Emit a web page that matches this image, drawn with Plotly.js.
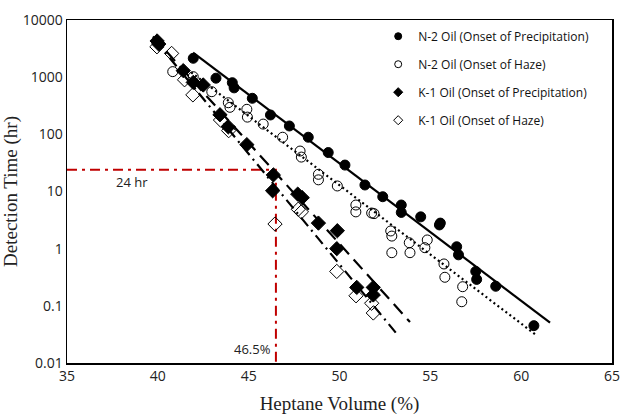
<!DOCTYPE html>
<html>
<head>
<meta charset="utf-8">
<script src="https://cdn.plot.ly/plotly-3.0.1.min.js"></script>
<style>html,body{margin:0;padding:0;background:#fff}#chart{width:625px;height:418px}</style>
</head>
<body>
<div id="chart"></div>
<script>
// N-2 Oil (Onset of Precipitation)
var n2PrecX = [41.95, 43.2, 44.1, 44.2, 45.2, 46.2, 47.24, 48.28, 49.38, 50.3, 51.4, 52.38, 53.4, 53.4, 54.47, 55.5, 55.55, 56.45, 56.55, 57.5, 57.55, 58.6, 60.7];
var n2PrecY = [2140, 960, 800, 650, 427, 218, 140, 89, 48, 29, 13, 8.1, 5.8, 4.3, 3.6, 2.6, 2.8, 1.08, 0.78, 0.4, 0.29, 0.22, 0.045];
// N-2 Oil (Onset of Haze)
var n2HazeX = [40.82, 41.95, 42.97, 43.88, 43.97, 44.9, 44.93, 45.8, 46.87, 47.83, 47.9, 48.84, 48.84, 49.88, 50.9, 50.9, 51.77, 51.9, 52.82, 52.88, 52.88, 53.84, 53.88, 54.83, 54.7, 55.75, 55.8, 56.78, 56.73];
var n2HazeY = [1250, 1020, 557, 357, 297, 274, 200, 151, 89, 51, 40, 20, 16, 12.5, 5.8, 4.4, 4.2, 4.1, 2.04, 1.66, 0.85, 1.27, 0.85, 1.42, 1.04, 0.54, 0.316, 0.216, 0.118];
// K-1 Oil (Onset of Precipitation)
var k1PrecX = [39.96, 40.05, 41.4, 41.95, 42.5, 43.42, 43.88, 44.9, 46.36, 46.32, 47.7, 47.95, 48.84, 49.88, 49.85, 50.95, 51.86, 51.86];
var k1PrecY = [4300, 3800, 1300, 810, 730, 220, 135, 66, 19.5, 10.3, 9, 7.8, 2.8, 2.06, 1.0, 0.21, 0.21, 0.155];
// K-1 Oil (Onset of Haze)
var k1HazeX = [39.95, 40.76, 41.47, 41.93, 43.45, 43.9, 46.45, 47.73, 47.9, 49.85, 50.91, 51.77, 51.86];
var k1HazeY = [3400, 2600, 900, 490, 178, 116, 2.7, 4.9, 4.4, 0.4, 0.15, 0.111, 0.075];
// Trend line endpoints
var n2PrecTrendX = [41.94, 61.59], n2PrecTrendY = [2700, 0.0507];
var n2HazeTrendX = [41.4, 60.76], n2HazeTrendY = [1550, 0.032];
var k1PrecTrendX = [39.73, 53.88], k1PrecTrendY = [5150, 0.052];
var k1HazeTrendX = [39.84, 53.11], k1HazeTrendY = [4470, 0.0335];
// 24 hr / 46.5% reference lines
var refX = [35, 46.5, 46.5], refY = [24, 24, 0.01];
var yTickVals = [0.01, 0.1, 1, 10, 100, 1000, 10000];
var yTickText = ['0.01', '0.1', '1', '10', '100', '1000', '10000'];
var xTickVals = [35, 40, 45, 50, 55, 60, 65];

var legendNames = ['N-2 Oil (Onset of Precipitation)', 'N-2 Oil (Onset of Haze)', 'K-1 Oil (Onset of Precipitation)', 'K-1 Oil (Onset of Haze)'];
var legendSymbols = ['circle', 'circle-open', 'diamond', 'diamond-open'];
var groups = ['a', 'b', 'c', 'd'];

var traces = [
  {x: refX, y: refY, mode: 'lines', line: {color: '#C00000', width: 2, dash: '10px,5px,3px,5px'}, showlegend: false, hoverinfo: 'skip'},
  {x: n2PrecTrendX, y: n2PrecTrendY, mode: 'lines', line: {color: '#000', width: 2.2}, showlegend: false},
  {x: n2HazeTrendX, y: n2HazeTrendY, mode: 'lines', line: {color: '#000', width: 2.2, dash: '2px,3px'}, showlegend: false},
  {x: k1PrecTrendX, y: k1PrecTrendY, mode: 'lines', line: {color: '#000', width: 2.2, dash: '13px,7px'}, showlegend: false},
  {x: k1HazeTrendX, y: k1HazeTrendY, mode: 'lines', line: {color: '#000', width: 2.2, dash: '11px,5px,2px,5px'}, showlegend: false},
  {x: n2PrecX, y: n2PrecY, mode: 'markers', showlegend: false,
   marker: {symbol: 'circle', size: 10, color: '#000', line: {color: '#000', width: 1}}},
  {x: n2HazeX, y: n2HazeY, mode: 'markers', showlegend: false,
   marker: {symbol: 'circle-open', size: 10, color: '#000', line: {color: '#000', width: 1}}},
  {x: k1PrecX, y: k1PrecY, mode: 'markers', showlegend: false,
   marker: {symbol: 'diamond', size: 11, color: '#000', line: {color: '#000', width: 1}}},
  {x: k1HazeX, y: k1HazeY, mode: 'markers', showlegend: false,
   marker: {symbol: 'diamond-open', size: 11, color: '#000', line: {color: '#000', width: 1}}}
];
// legend-only entries with smaller markers
for (var i = 0; i < legendNames.length; i++) {
  traces.push({x: [null], y: [null], mode: 'markers', name: legendNames[i], legendgroup: groups[i],
    marker: {symbol: legendSymbols[i], size: 7, color: '#000', line: {color: '#000', width: 1}}});
}

var layout = {
  width: 625, height: 418,
  margin: {l: 67, r: 13, t: 20, b: 55},
  paper_bgcolor: '#fff', plot_bgcolor: '#fff',
  font: {family: '"Open Sans", sans-serif', color: '#222'},
  showlegend: true,
  legend: {x: 0.571, y: 0.995, xanchor: 'left', yanchor: 'top', bgcolor: 'rgba(0,0,0,0)',
    font: {size: 12, color: '#111'}, traceorder: 'grouped', tracegroupgap: 9, itemwidth: 30},
  xaxis: {range: [35, 65], tickvals: xTickVals, ticks: '', showgrid: false, zeroline: false,
    showline: true, linecolor: '#000', linewidth: 1.5, mirror: true,
    tickfont: {size: 14, color: '#222'},
    title: {text: 'Heptane Volume (%)', font: {family: '"Liberation Serif", "Times New Roman", serif', size: 19, color: '#222'}, standoff: 12}},
  yaxis: {type: 'log', range: [-2, 4], tickvals: yTickVals, ticktext: yTickText, ticks: '', showgrid: false, zeroline: false,
    showline: true, linecolor: '#000', linewidth: 1.5, mirror: true,
    tickfont: {size: 14, color: '#222'},
    title: {text: 'Detection Time (hr)', font: {family: '"Liberation Serif", "Times New Roman", serif', size: 19, color: '#222'}, standoff: 4}},
  annotations: [
    {x: 37.6, y: Math.log10(14.5), xref: 'x', yref: 'y', text: '24 hr', showarrow: false, xanchor: 'left', yanchor: 'middle', font: {size: 13, color: '#222'}},
    {x: 46.35, y: Math.log10(0.0175), xref: 'x', yref: 'y', text: '46.5%', showarrow: false, xanchor: 'right', yanchor: 'middle', font: {size: 13, color: '#222'}}
  ]
};

Plotly.newPlot('chart', traces, layout, {displayModeBar: false, staticPlot: true});
</script>
</body>
</html>
